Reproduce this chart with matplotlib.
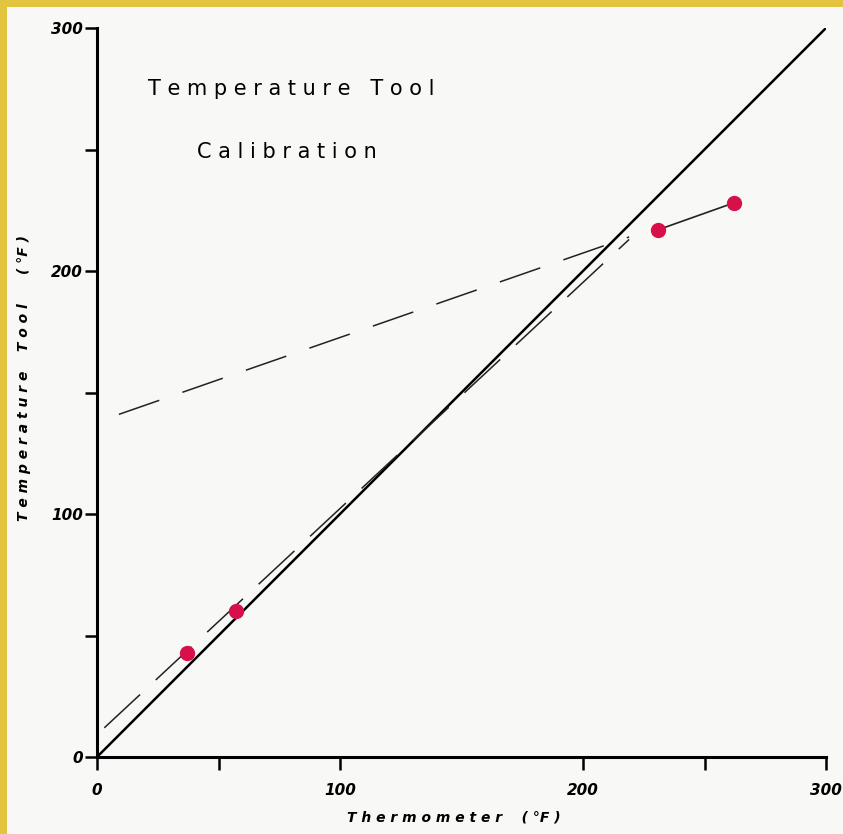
import matplotlib.pyplot as plt
from matplotlib.patches import Rectangle

# lectures sur le graphique (degres F)
thermometre = [37, 57, 231, 262]
outil = [43, 60, 217, 228]

# droite y = x
ideal_x = [0, 300]
ideal_y = [0, 300]

# deux droites en tirets
tirets_haut_x = [9, 219]
tirets_haut_y = [141, 214]
tirets_bas_x = [3, 219]
tirets_bas_y = [12, 213]

jaune = '#E2C43E'
papier = '#F8F8F6'

fig = plt.figure(figsize=(8.43, 8.34), dpi=100, facecolor=jaune)
# feuille blanche (bordure jaune en haut et a gauche)
fig.patches.append(Rectangle((7 / 843, 0), 1, 1 - 7 / 834, transform=fig.transFigure,
                             facecolor=papier, edgecolor='none', zorder=-10))

ax = fig.add_axes([97 / 843, 77 / 834, 729 / 843, 729 / 834])
ax.set_facecolor('none')

ax.plot(ideal_x, ideal_y, color='black', lw=1.8, solid_capstyle='butt')
ax.plot(tirets_haut_x, tirets_haut_y, color='#222222', lw=1.1, dashes=(28, 16))
ax.plot(tirets_bas_x, tirets_bas_y, color='#222222', lw=1.1, dashes=(32, 14))
ax.plot(thermometre[2:], outil[2:], color='#222222', lw=1.2)
ax.plot(thermometre, outil, 'o', color='#D7104A', markersize=10, zorder=5)

ax.set_xlim(0, 300)
ax.set_ylim(0, 300)
for s in ['top', 'right']:
    ax.spines[s].set_visible(False)
for s in ['left', 'bottom']:
    ax.spines[s].set_linewidth(2.2)

ax.set_xticks([0, 100, 200, 300])
ax.set_xticks([50, 250], minor=True)
ax.set_yticks([0, 100, 200, 300])
ax.set_yticks([50, 150, 250], minor=True)
ax.tick_params(which='both', direction='out', length=9, width=1.8)
ax.tick_params(axis='x', which='major', pad=10)
ax.tick_params(axis='y', which='major', pad=1)
for lab in ax.get_xticklabels() + ax.get_yticklabels():
    lab.set_fontsize(11)
    lab.set_fontweight('bold')
    lab.set_fontstyle('italic')

ax.set_xlabel('T h e r m o m e t e r    ( °F )', fontsize=10, fontweight='bold',
              fontstyle='italic')
ax.xaxis.set_label_coords(0.49, -0.074)
ax.set_ylabel('T e m p e r a t u r e    T o o l      ( °F )', fontsize=10,
              fontweight='bold', fontstyle='italic')
ax.yaxis.set_label_coords(-0.09, 0.52)

ax.text(21, 275, 'T e m p e r a t u r e   T o o l', fontsize=15, ha='left', va='center')
ax.text(41, 249, 'C a l i b r a t i o n', fontsize=15, ha='left', va='center')

plt.savefig('out.png', dpi=100, facecolor=jaune)
